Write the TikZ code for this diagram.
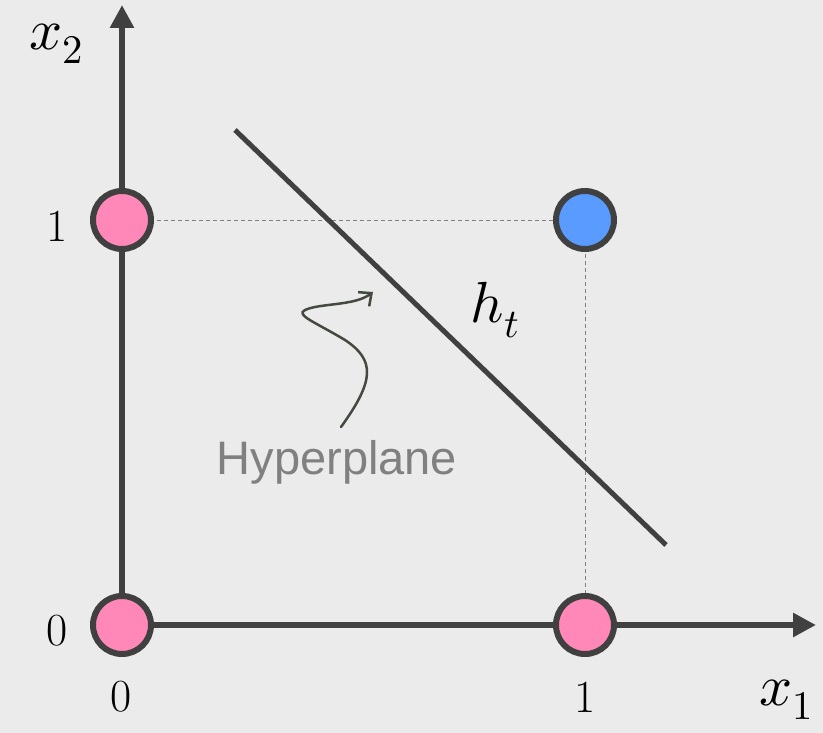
\documentclass[tikz,border=0pt]{standalone}
\usepackage{fontspec}
\usepackage{unicode-math}
\setmathfont{Latin Modern Math}
\setsansfont{Liberation Sans}
\usetikzlibrary{arrows.meta}
\definecolor{bgc}{HTML}{EBEBEB}
\definecolor{axc}{HTML}{404040}
\definecolor{pinkc}{HTML}{FF88B8}
\definecolor{bluec}{HTML}{5A9BFF}
\definecolor{arrc}{HTML}{454A40}
\definecolor{txtgray}{HTML}{808080}
\tikzset{
  axis/.style={draw=axc, line width=6pt, -{Triangle[length=23pt,width=23pt]}},
  dot/.style={circle, draw=axc, line width=6pt, minimum size=58pt, inner sep=0pt},
  guide/.style={draw=gray, line width=0.8pt, dash pattern=on 4pt off 3pt},
  lbl/.style={font=\fontsize{46}{52}\selectfont, inner sep=0pt},
  mlbl/.style={font=\fontsize{58}{66}\selectfont, inner sep=0pt}
}
\begin{document}
\begin{tikzpicture}[x=1pt,y=-1pt]
\fill[bgc] (0,0) rectangle (823,733);
\useasboundingbox (0,0) rectangle (823,733);
% coordinates
\coordinate (o) at (122,625);
\coordinate (ytip) at (122,5);
\coordinate (xtip) at (816,625);
% guides
\draw[guide] (122,220) -- (585,220) -- (585,625);
% axes
\draw[axis] (o) -- (ytip);
\draw[axis] (o) -- (xtip);
% hyperplane
\coordinate (h1) at (235,130);
\coordinate (h2) at (666,545);
\draw[axc, line width=5pt] (h1) -- (h2);
% dots
\node[dot, fill=pinkc] (p01) at (122,220) {};
\node[dot, fill=bluec] (p11) at (585,220) {};
\node[dot, fill=pinkc] (p00) at (122,625) {};
\node[dot, fill=pinkc] (p10) at (585,625) {};
% tick labels
\node[lbl] (t1y) at (57,226) {1};
\node[lbl] (t0y) at (57,631) {0};
\node[lbl] (t0x) at (121,697) {0};
\node[lbl] (t1x) at (585,697) {1};
% axis labels
\node[mlbl] (lx2) at (56,44) {$x_2$};
\node[mlbl] (lx1) at (786,700) {$x_1$};
\node[mlbl] (lh) at (495,310) {$h_t$};
% hyperplane label
\node[font=\sffamily\fontsize{47}{54}\selectfont, text=txtgray, inner sep=0pt] (hyp) at (337,462) {Hyperplane};
\coordinate (cs) at (341,427);
\coordinate (ce) at (373,292);
\draw[arrc, line width=2.5pt, line cap=round, -{Straight Barb[length=10pt,width=18pt]}]
  (cs) .. controls (375,380) and (375,360) .. (345,340)
  .. controls (315,322) and (295,315) .. (305,310)
  .. controls (320,303) and (355,306) .. (ce);
\end{tikzpicture}
\end{document}
